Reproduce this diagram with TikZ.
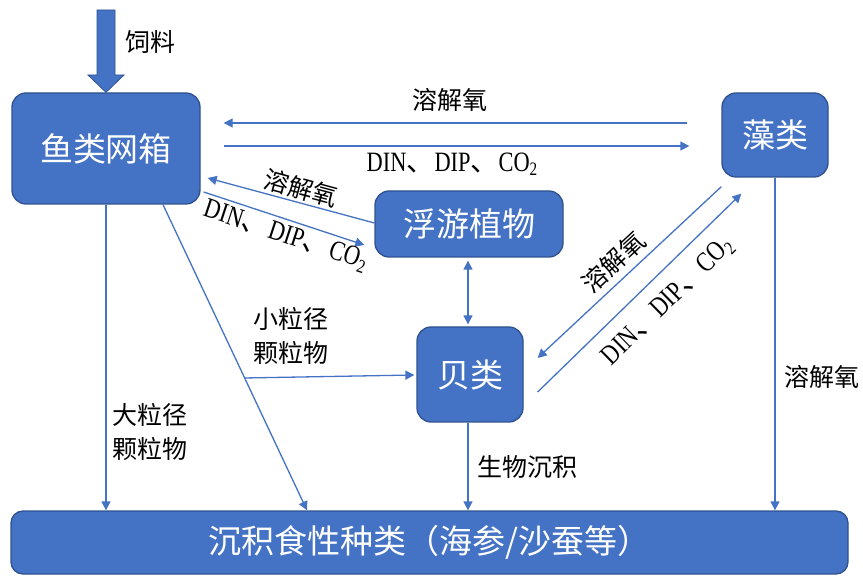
\documentclass[tikz,border=0pt]{standalone}
\usepackage{fontspec}
\setmainfont{Liberation Serif}
\newfontfamily\cjk{Noto Sans CJK SC}
\newfontfamily\latn[FakeStretch=0.8]{Liberation Serif}
\usetikzlibrary{arrows.meta,calc}
\definecolor{boxblue}{HTML}{4472C4}
\definecolor{boxedge}{HTML}{2F528F}
\newcommand{\dinlbl}{{\latn DIN{\cjk 、}DIP{\cjk 、}CO\raisebox{-0.35ex}{\fontsize{19}{19}\selectfont 2}}}
\tikzset{
  box/.style={draw=boxedge, line width=1.3pt, fill=boxblue, rounded corners=14pt,
    text=white, font=\cjk\fontsize{33}{36}\selectfont, inner sep=0pt},
  flow/.style={draw=boxblue, line width=1.3pt, -{Triangle[length=9pt,width=9pt]}},
  flow2/.style={draw=boxblue, line width=1.3pt, {Triangle[length=9pt,width=9pt]}-{Triangle[length=9pt,width=9pt]}},
  lbl/.style={font=\cjk\fontsize{25}{34}\selectfont, text=black, inner sep=2pt},
  chem/.style={font=\latn\fontsize{28}{30}\selectfont, text=black, inner sep=2pt}
}
\begin{document}
\begin{tikzpicture}[x=1pt,y=1pt]
\useasboundingbox (0,0) rectangle (863,-577);

% nodes
\node[box, minimum width=188pt, minimum height=111pt] (fish) at (106,-148.5) {鱼类网箱};
\node[box, minimum width=106pt, minimum height=84pt] (alg) at (775,-135) {藻类};
\node[box, minimum width=188pt, minimum height=66pt] (phyto) at (469,-224) {浮游植物};
\node[box, minimum width=106pt, minimum height=95pt] (shell) at (470,-374.5) {贝类};
\node[box, minimum width=837pt, minimum height=63pt, rounded corners=12pt] (bottom) at (429.5,-542.5) {沉积食性种类（海参/沙蚕等）};

% feed arrow
\filldraw[fill=boxblue, draw=boxedge, line width=0.8pt]
  (97,-10) -- (115,-10) -- (115,-75) -- (124,-75) -- (fish.north) -- (88,-75) -- (97,-75) -- cycle;
\node[lbl, anchor=west] (feed) at (123,-42) {饲料};

% fish <-> algae
\draw[flow] ([xshift=-34pt,yshift=12pt]alg.west) -- ([xshift=23pt,yshift=25.5pt]fish.east);
\draw[flow] ([xshift=23pt,yshift=2.5pt]fish.east) -- ([xshift=-32pt,yshift=-11pt]alg.west);
\node[lbl] (o2a) at (450,-100) {溶解氧};
\node[chem] (dina) at (452,-164) {\dinlbl};

% fish <-> phyto
\draw[flow] ([yshift=1pt]phyto.west) -- node[lbl, pos=0.46, sloped, above] (o2b) {溶解氧} ([xshift=7pt,yshift=-29.5pt]fish.east);
\draw[flow] ([xshift=3pt,yshift=-43.5pt]fish.east) -- node[chem, pos=0.54, sloped, below=2pt] (dinb) {\dinlbl} ([xshift=-10pt,yshift=-21pt]phyto.west);

% phyto <-> shell
\draw[flow2] ([xshift=-1pt,yshift=-3pt]phyto.south) -- ([xshift=-2pt,yshift=2pt]shell.north);

% algae <-> shell
\draw[flow] ([yshift=-9pt]alg.south west) -- node[lbl, pos=0.52, sloped, above=4pt] (o2c) {溶解氧} ([xshift=14pt,yshift=16.5pt]shell.east);
\draw[flow] ([xshift=14pt,yshift=-17.5pt]shell.east) -- node[chem, pos=0.55, sloped, below=12pt] (dinc) {\dinlbl} ([xshift=20pt,yshift=-16pt]alg.south west);

% fish -> bottom
\draw[flow] (fish.south) -- (fish.south |- bottom.north);
\coordinate (d1) at ([xshift=57pt]fish.south);
\coordinate (d2) at ([xshift=-122.5pt]bottom.north);
\draw[flow] (d1) -- (d2);
\coordinate (br) at ($(d1)!0.567!(d2)$);
\draw[flow] (br) -- ([xshift=-2pt,yshift=-0.5pt]shell.west);
\node[lbl, align=left] (small) at (291,-336) {小粒径\\颗粒物};
\node[lbl, align=left] (large) at (150,-432) {大粒径\\颗粒物};

% shell -> bottom
\draw[flow] ([xshift=-2pt]shell.south) -- ([xshift=-2pt]shell.south |- bottom.north);
\node[lbl] (bio) at (527,-467) {生物沉积};

% algae -> bottom
\draw[flow] (alg.south) -- (alg.south |- bottom.north);
\node[lbl] (o2d) at (822,-377) {溶解氧};
\end{tikzpicture}
\end{document}
